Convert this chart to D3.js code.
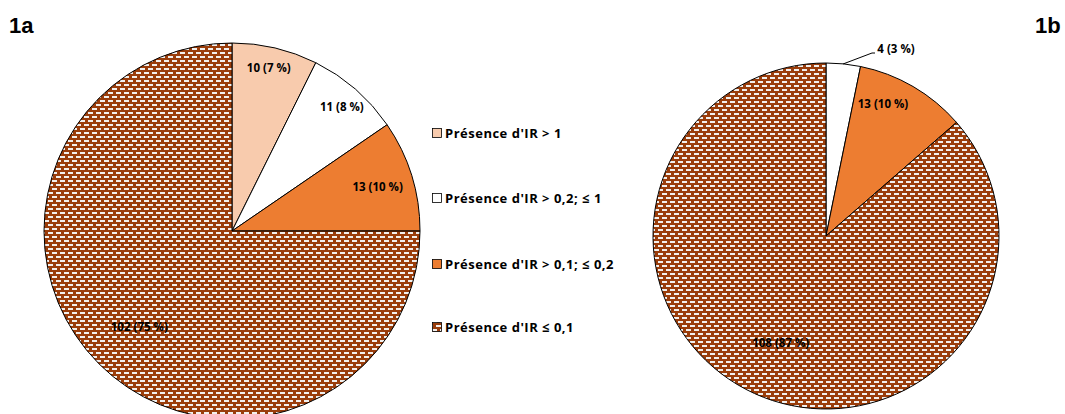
<!DOCTYPE html>
<html>
<head>
<meta charset="utf-8">
<script src="https://cdn.jsdelivr.net/npm/d3@7"></script>
<style>
  body { margin: 0; background: #fff; }
  text { font-family: "Open Sans", "Noto Sans", sans-serif; }
</style>
</head>
<body>
<div id="chart"></div>
<script>
// chart data
const categories = ["Présence d'IR > 1", "Présence d'IR > 0,2; ≤ 1", "Présence d'IR > 0,1; ≤ 0,2", "Présence d'IR ≤ 0,1"];
const values1a = [10, 11, 13, 102];
const labels1a = ["10 (7 %)", "11 (8 %)", "13 (10 %)", "102 (75 %)"];
const categories1b = ["Présence d'IR > 0,2; ≤ 1", "Présence d'IR > 0,1; ≤ 0,2", "Présence d'IR ≤ 0,1"];
const values1b = [4, 13, 108];
const labels1b = ["4 (3 %)", "13 (10 %)", "108 (87 %)"];

const width = 1065;
const height = 414;

const colors = d3.scaleOrdinal()
  .domain(categories)
  .range(["#f8cbad", "#ffffff", "#ed7d31", "url(#brick)"]);

const svg = d3.select("#chart")
  .append("svg")
  .attr("width", width)
  .attr("height", height);

// brick pattern for the big slice
const pat = svg.append("defs").append("pattern")
  .attr("id", "brick")
  .attr("patternUnits", "userSpaceOnUse")
  .attr("width", 8)
  .attr("height", 8);
pat.append("rect").attr("width", 8).attr("height", 8).attr("fill", "#9a3d0b");
pat.append("rect").attr("x", 0).attr("y", 1).attr("width", 5).attr("height", 2).attr("fill", "#f2f0ee");
pat.append("rect").attr("x", 4).attr("y", 5).attr("width", 4).attr("height", 2).attr("fill", "#f2f0ee");
pat.append("rect").attr("x", 0).attr("y", 5).attr("width", 1).attr("height", 2).attr("fill", "#f2f0ee");

const pie = d3.pie().sort(null).value(d => d.v);

function drawPie(cx, cy, r, cats, vals, labs, labelPos) {
  const g = svg.append("g").attr("transform", `translate(${cx},${cy})`);
  const arcs = pie(cats.map((c, i) => ({c: c, v: vals[i], l: labs[i]})));
  const arc = d3.arc().innerRadius(0).outerRadius(r);

  g.selectAll("path")
    .data(arcs)
    .enter()
    .append("path")
      .attr("d", arc)
      .attr("fill", d => colors(d.data.c))
      .attr("stroke", "#000")
      .attr("stroke-width", 1);

  g.selectAll(".lbl")
    .data(arcs)
    .enter()
    .append("text")
      .attr("class", "lbl")
      .attr("x", (d, i) => labelPos[i][1] * r * Math.sin(labelPos[i][0] * Math.PI / 180))
      .attr("y", (d, i) => -labelPos[i][1] * r * Math.cos(labelPos[i][0] * Math.PI / 180))
      .attr("text-anchor", "middle")
      .attr("dy", "0.35em")
      .attr("font-size", "11.5px")
      .attr("font-weight", "bold")
      .attr("fill", "#000")
      .text(d => d.data.l);
  return g;
}

// label positions: [angle in degrees, fraction of radius]
drawPie(232, 231, 188, categories, values1a, labels1a,
  [[12.7, 0.89], [41.6, 0.88], [73, 0.81], [224, 0.71]]);

const g1b = drawPie(826, 236, 173, categories1b, values1b, labels1b,
  [[0, 0], [23.4, 0.83], [203, 0.67]]);

// leader for the small slice in 1b
const small = g1b.selectAll(".lbl").filter((d, i) => i === 0);
small.attr("x", 70).attr("y", -187).attr("text-anchor", "middle");
g1b.append("polyline")
  .attr("points", "17,-172 46,-183 49,-183")
  .attr("fill", "none")
  .attr("stroke", "#000")
  .attr("stroke-width", 1);

// legend
const legend = svg.append("g").attr("transform", "translate(432,0)");
const legY = [133, 198, 264, 327];
categories.forEach((c, i) => {
  legend.append("rect")
    .attr("x", 0.5)
    .attr("y", legY[i] - 4.5)
    .attr("width", 9)
    .attr("height", 9)
    .attr("fill", colors(c))
    .attr("stroke", "#000")
    .attr("stroke-width", 0.8);
  legend.append("text")
    .attr("x", 13)
    .attr("y", legY[i])
    .attr("dy", "0.35em")
    .attr("font-size", "13px")
    .attr("letter-spacing", "0.5px")
    .attr("font-weight", "bold")
    .text(c);
});

// panel titles
svg.append("text")
  .attr("x", 9).attr("y", 33)
  .style("font-family", "'Liberation Sans', Arial, sans-serif")
  .attr("font-size", "22px").attr("font-weight", "bold")
  .text("1a");
svg.append("text")
  .attr("x", 1035).attr("y", 33)
  .style("font-family", "'Liberation Sans', Arial, sans-serif")
  .attr("font-size", "22px").attr("font-weight", "bold")
  .text("1b");
</script>
</body>
</html>
